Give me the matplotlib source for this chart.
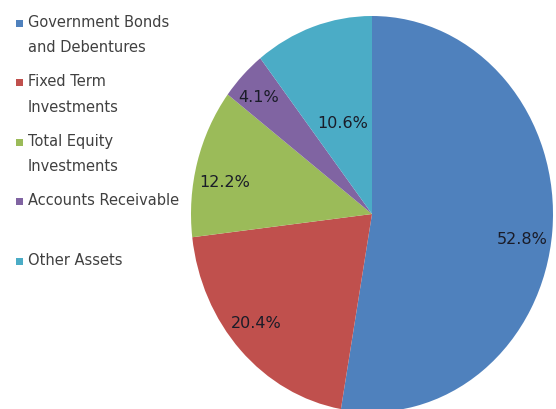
import numpy as np
import matplotlib
matplotlib.use("Agg")
import matplotlib.pyplot as plt
from matplotlib.patches import Rectangle

# asset mix, clockwise from 12 o'clock
categories = ["Government Bonds\nand Debentures", "Fixed Term\nInvestments",
              "Total Equity\nInvestments", "Accounts Receivable", "Other Assets"]
shares = [52.8, 20.4, 12.2, 4.1, 10.6]
colors = ["#4F81BD", "#C0504D", "#9BBB59", "#8064A2", "#4BACC6"]

# label placement: radial distance and angular nudge (deg) from wedge middle
label_dist = [0.84, 0.84, 0.83, 0.86, 0.49]
label_turn = [-3.6, -2.8, 3.9, 1.0, 0.0]

W, H = 556, 410
fig = plt.figure(figsize=(W / 100, H / 100), dpi=100)
fig.patch.set_facecolor("white")

# pie is drawn slightly taller than wide
px0, px1 = 191, 553
py_top, py_bot = 17, 413
ax = fig.add_axes([px0 / W, 1 - py_bot / H, (px1 - px0) / W, (py_bot - py_top) / H])
wedges, _ = ax.pie(shares, colors=colors, startangle=90, counterclock=False,
                   radius=1.0, wedgeprops=dict(linewidth=0))
ax.set_aspect("auto")
ax.set_xlim(-1, 1)
ax.set_ylim(-1, 1)
ax.axis("off")

for w, v, d, t in zip(wedges, shares, label_dist, label_turn):
    mid = np.deg2rad((w.theta1 + w.theta2) / 2 + t)
    ax.text(d * np.cos(mid), d * np.sin(mid), f"{v:.1f}%", ha="center", va="center",
            fontsize=11.5, color="#1A1C28")

# legend down the left side, one slot per category
lg = fig.add_axes([0, 0, 1, 1])
lg.set_xlim(0, W)
lg.set_ylim(H, 0)
lg.axis("off")
lg.patch.set_alpha(0)
slot0, step = 24, 59.5
for i, (name, c) in enumerate(zip(categories, colors)):
    y = slot0 + i * step
    lg.add_patch(Rectangle((16, y - 3.5), 7, 7, facecolor=c, edgecolor="none"))
    lg.text(28, y - 9, name, ha="left", va="top", fontsize=10.5, color="#404040",
            linespacing=1.85)

fig.savefig("out.png", dpi=100)
